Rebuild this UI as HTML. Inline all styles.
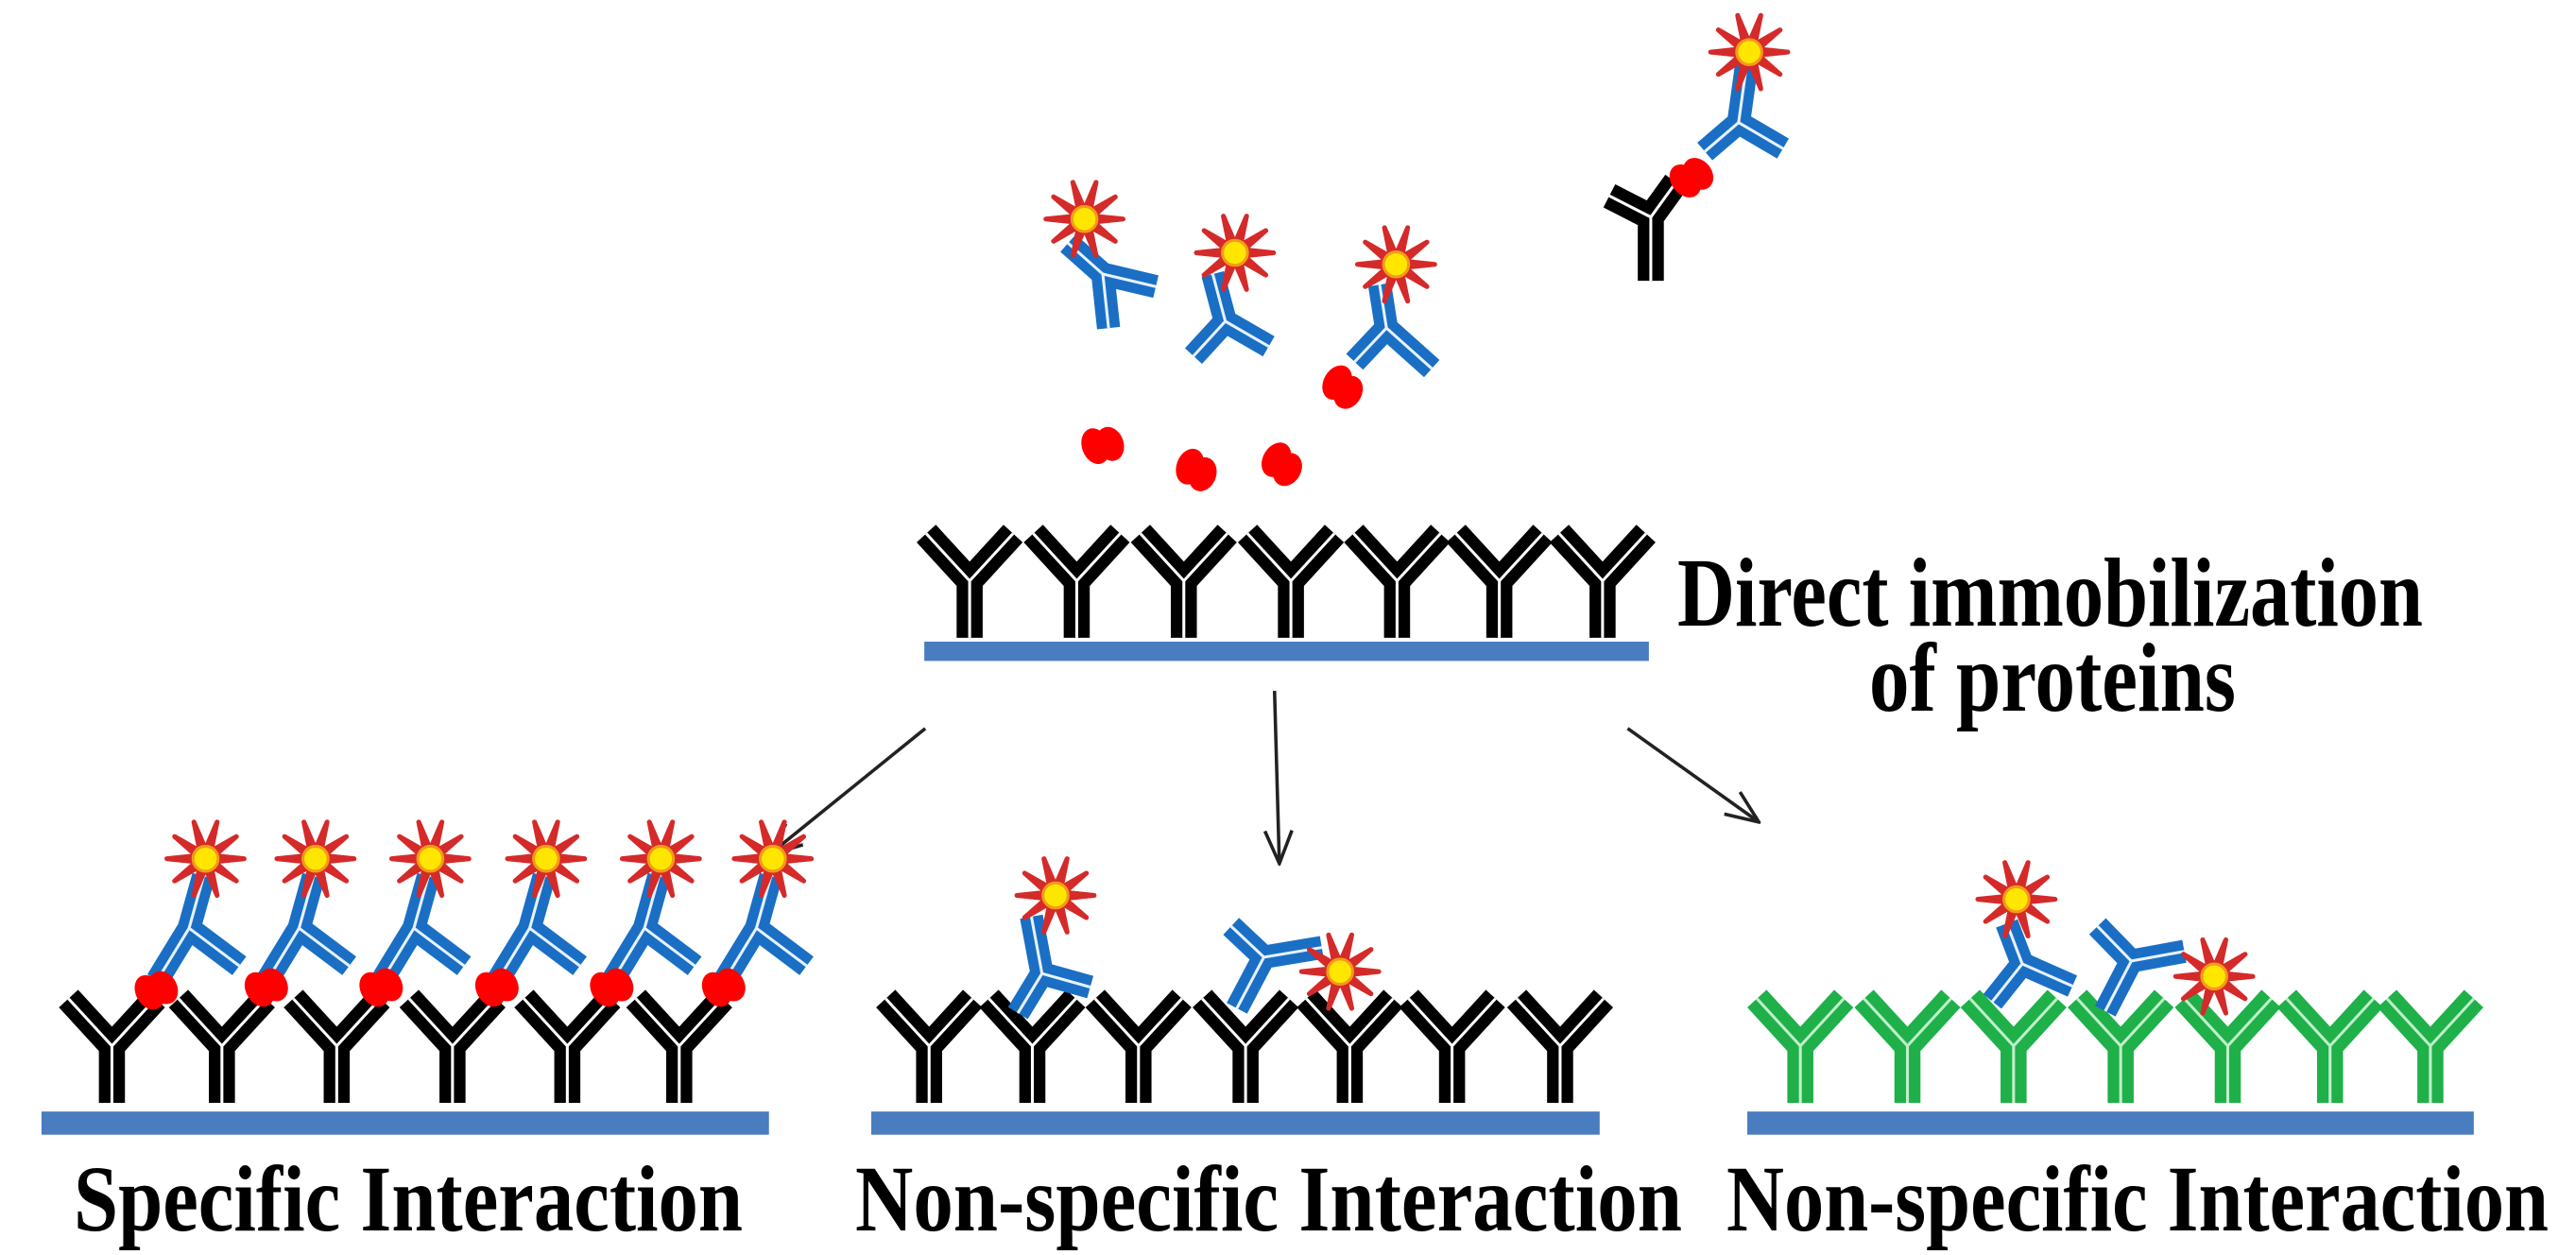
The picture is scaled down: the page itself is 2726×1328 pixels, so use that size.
<!DOCTYPE html>
<html><head><meta charset="utf-8"><style>
html,body{margin:0;padding:0;background:#fff;}
svg{display:block;}
.t{font-family:"Liberation Serif",serif;font-weight:bold;fill:#000;}
</style></head><body>
<svg width="2726" height="1328" viewBox="0 0 2726 1328" xmlns="http://www.w3.org/2000/svg">
<defs>
<g id="star">
<polygon points="40,0 9.5,3.1 32,23 5.9,8.1 12,38 0,10 -12,38 -5.9,8.1 -32,23 -9.5,3.1 -40,0 -9.5,-3.1 -32,-23 -5.9,-8.1 -12,-38 0,-10 12,-38 5.9,-8.1 32,-23 9.5,-3.1" fill="#e8312b" stroke="#d52a2a" stroke-width="5" stroke-linejoin="round"/>
<circle r="13" fill="#ffe600" stroke="#f39a1a" stroke-width="3"/>
</g>
<g id="blob"><ellipse cx="-7" cy="0" rx="14" ry="19" fill="#f00"/><ellipse cx="8" cy="3" rx="14" ry="18" fill="#f00"/></g>
<path id="blk" d="
M116 1143V1084L71 1035M116 1084L161 1035
M230 1143V1084L185 1035M230 1084L275 1035
M349 1143V1084L304 1035M349 1084L394 1035
M469 1143V1084L424 1035M469 1084L514 1035
M588 1143V1084L543 1035M588 1084L633 1035
M704 1143V1084L659 1035M704 1084L749 1035
M963 1143V1084L918 1035M963 1084L1008 1035
M1070 1143V1084L1025 1035M1070 1084L1115 1035
M1180 1143V1084L1135 1035M1180 1084L1225 1035
M1291 1143V1084L1246 1035M1291 1084L1336 1035
M1399 1143V1084L1354 1035M1399 1084L1444 1035
M1505 1143V1084L1460 1035M1505 1084L1550 1035
M1617 1143V1084L1572 1035M1617 1084L1662 1035
M1005 661V602L960 553M1005 602L1050 553
M1116 661V602L1071 553M1116 602L1161 553
M1227 661V602L1182 553M1227 602L1272 553
M1338 661V602L1293 553M1338 602L1383 553
M1448 661V602L1403 553M1448 602L1493 553
M1554 661V602L1509 553M1554 602L1599 553
M1661 661V602L1616 553M1661 602L1706 553
M1711 291V225L1668 203M1711 225L1737 189"/>
<path id="grn" d="
M1866 1143V1084L1821 1035M1866 1084L1911 1035
M1977 1143V1084L1932 1035M1977 1084L2022 1035
M2087 1143V1084L2042 1035M2087 1084L2132 1035
M2198 1143V1084L2153 1035M2198 1084L2243 1035
M2309 1143V1084L2264 1035M2309 1084L2354 1035
M2415 1143V1084L2370 1035M2415 1084L2460 1035
M2519 1143V1084L2474 1035M2519 1084L2564 1035"/>
<path id="blu" d="
M196 962L211 908M196 962L163 1016M196 962L248 1001
M310 962L325 908M310 962L277 1016M310 962L362 1001
M429 962L444 908M429 962L396 1016M429 962L481 1001
M549 962L564 908M549 962L516 1016M549 962L601 1001
M668 962L683 908M668 962L635 1016M668 962L720 1001
M784 962L799 908M784 962L751 1016M784 962L836 1001
M1143 284L1107 252M1143 284L1198 297M1143 284L1149 340
M1270 333L1257 284M1270 333L1237 369M1270 333L1315 359
M1437 340L1430 295M1437 340L1404 375M1437 340L1484 382
M1802 127L1811 62M1802 127L1767 157M1802 127L1848 154
M1080 1009L1069 950M1080 1009L1055 1050M1080 1009L1130 1023
M1310 992L1370 982M1310 992L1276 960M1310 992L1282 1045
M2096 999L2080 957M2096 999L2065 1038M2096 999L2148 1022
M2209 996L2264 986M2209 996L2174 960M2209 996L2182 1048"/>
<marker id="ah" viewBox="0 0 40 40" refX="38" refY="20" markerWidth="40" markerHeight="40" markerUnits="userSpaceOnUse" orient="auto">
<polyline points="4,6 38,20 4,34" fill="none" stroke="#222" stroke-width="3.5"/>
</marker>
</defs>
<g transform="scale(1.021)">
<rect x="43" y="1152" width="754" height="24" fill="#4a7cc0"/>
<rect x="903" y="1152" width="755" height="24" fill="#4a7cc0"/>
<rect x="1811" y="1152" width="753" height="24" fill="#4a7cc0"/>
<rect x="958" y="665" width="751" height="20" fill="#4a7cc0"/>
<line x1="959" y1="755" x2="797" y2="886" stroke="#222" stroke-width="3.5" marker-end="url(#ah)"/>
<line x1="1321" y1="716" x2="1326" y2="895" stroke="#222" stroke-width="3.5" marker-end="url(#ah)"/>
<line x1="1687" y1="755" x2="1823" y2="852" stroke="#222" stroke-width="3.5" marker-end="url(#ah)"/>
<use href="#blk" fill="none" stroke="#000" stroke-width="27"/>
<use href="#blk" fill="none" stroke="#fff" stroke-width="3"/>
<use href="#grn" fill="none" stroke="#1fb04a" stroke-width="27"/>
<use href="#grn" fill="none" stroke="#bff0c8" stroke-width="3"/>
<use href="#blu" fill="none" stroke="#1a6fc4" stroke-width="24"/>
<use href="#blu" fill="none" stroke="#e6f2ff" stroke-width="3"/>
<use href="#blob" transform="translate(161,1025) rotate(-30)"/>
<use href="#blob" transform="translate(275,1022) rotate(-30)"/>
<use href="#blob" transform="translate(394,1022) rotate(-30)"/>
<use href="#blob" transform="translate(514,1022) rotate(-30)"/>
<use href="#blob" transform="translate(633,1022) rotate(-30)"/>
<use href="#blob" transform="translate(749,1022) rotate(-30)"/>
<use href="#blob" transform="translate(1142,460) rotate(-20)"/>
<use href="#blob" transform="translate(1240,486) rotate(20)"/>
<use href="#blob" transform="translate(1329,480) rotate(30)"/>
<use href="#blob" transform="translate(1392,400) rotate(30)"/>
<use href="#blob" transform="translate(1752,183) rotate(-40)"/>
<use href="#star" transform="translate(213,890)"/>
<use href="#star" transform="translate(327,890)"/>
<use href="#star" transform="translate(446,890)"/>
<use href="#star" transform="translate(566,890)"/>
<use href="#star" transform="translate(685,890)"/>
<use href="#star" transform="translate(801,890)"/>
<use href="#star" transform="translate(1124,227)"/>
<use href="#star" transform="translate(1280,262)"/>
<use href="#star" transform="translate(1447,274)"/>
<use href="#star" transform="translate(1813,54)"/>
<use href="#star" transform="translate(1094,928)"/>
<use href="#star" transform="translate(1389,1007)"/>
<use href="#star" transform="translate(2090,932)"/>
<use href="#star" transform="translate(2295,1012)"/>
</g>
<text class="t" x="1775" y="662" font-size="104" textLength="789" lengthAdjust="spacingAndGlyphs">Direct immobilization</text>
<text class="t" x="1978" y="752" font-size="104" textLength="388" lengthAdjust="spacingAndGlyphs">of proteins</text>
<text class="t" x="78" y="1302" font-size="100" textLength="708" lengthAdjust="spacingAndGlyphs">Specific Interaction</text>
<text class="t" x="905" y="1302" font-size="100" textLength="875" lengthAdjust="spacingAndGlyphs">Non-specific Interaction</text>
<text class="t" x="1827" y="1302" font-size="100" textLength="870" lengthAdjust="spacingAndGlyphs">Non-specific Interaction</text>
</svg>
</body></html>
